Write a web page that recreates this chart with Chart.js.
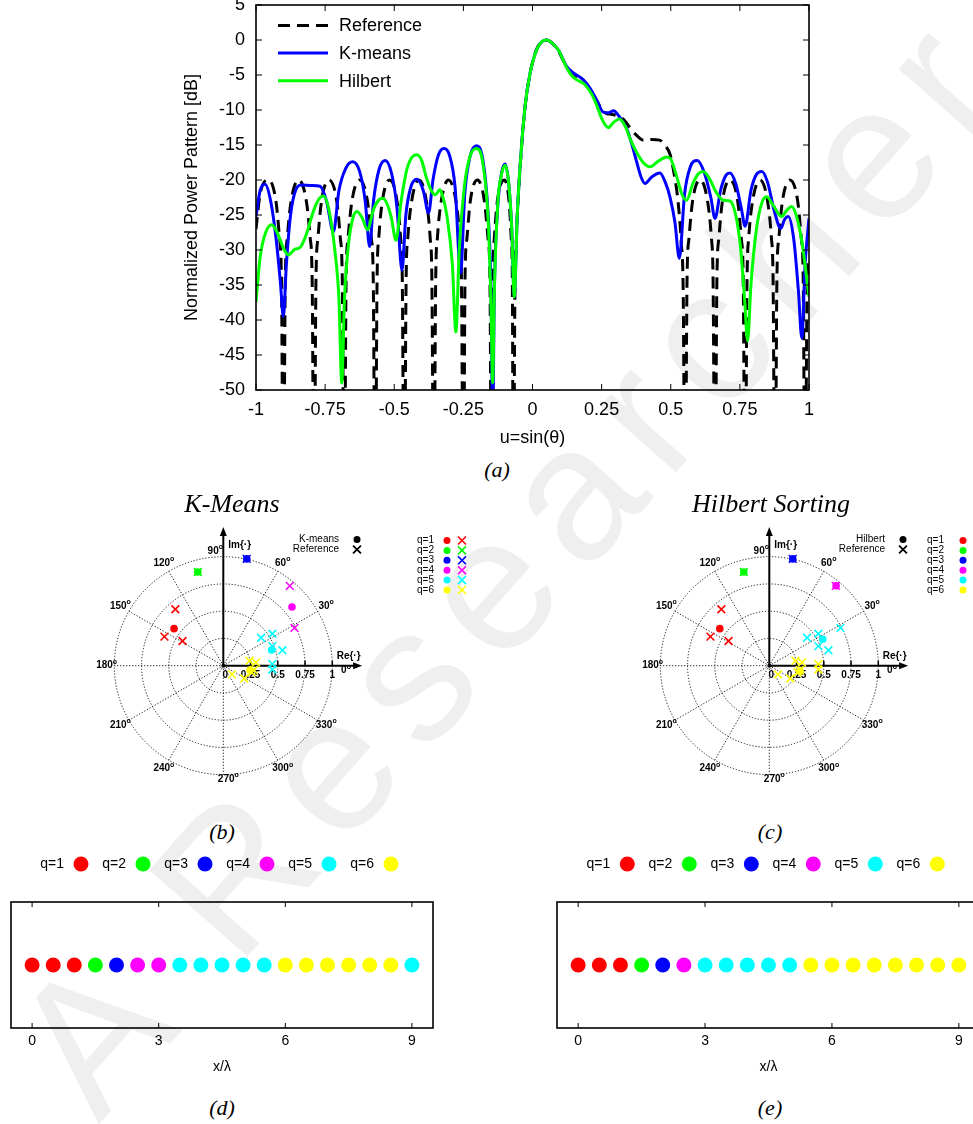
<!DOCTYPE html>
<html>
<head>
<meta charset="utf-8">
<script src="https://cdn.jsdelivr.net/npm/chart.js@4.4.1/dist/chart.umd.min.js"></script>
<style>
  html, body { margin: 0; padding: 0; background: #fff; }
  body { width: 973px; height: 1124px; overflow: hidden; position: relative; }
  canvas { position: absolute; z-index: 1; }
  .cap { position: absolute; z-index: 2; font-family: "Liberation Serif", "Times New Roman", serif; font-style: italic; color: #000; transform: translate(-50%, -50%); white-space: nowrap; }
  .wm { position: absolute; z-index: 0; left: 510px; top: 560px; transform: translate(-50%, -50%) rotate(-48.5deg); font-family: "Liberation Sans", Arial, sans-serif; font-size: 190px; color: #efefef; white-space: nowrap; letter-spacing: 20px; }
</style>
</head>
<body>
<div class="wm">A Researcher</div>

<canvas id="pattern" width="973" height="450" style="left:0;top:0"></canvas>
<div class="cap" style="left:497px;top:470px;font-size:22px">(a)</div>

<div class="cap" style="left:232px;top:504px;font-size:26px">K-Means</div>
<div class="cap" style="left:771px;top:504px;font-size:26px">Hilbert Sorting</div>
<canvas id="polarKm" width="400" height="295" style="left:80px;top:515px"></canvas>
<canvas id="polarHil" width="347" height="295" style="left:626px;top:515px"></canvas>
<div class="cap" style="left:222px;top:832px;font-size:22px">(b)</div>
<div class="cap" style="left:770px;top:832px;font-size:22px">(c)</div>

<canvas id="arrayKm" width="450" height="230" style="left:0;top:850px"></canvas>
<canvas id="arrayHil" width="450" height="230" style="left:545px;top:850px"></canvas>
<div class="cap" style="left:222px;top:1108px;font-size:22px">(d)</div>
<div class="cap" style="left:770px;top:1108px;font-size:22px">(e)</div>

<script>
// ---------- (a) normalized power pattern ----------
const uTicks = [-1, -0.75, -0.5, -0.25, 0, 0.25, 0.5, 0.75, 1];
const uTickLabels = ['-1', '-0.75', '-0.5', '-0.25', '0', '0.25', '0.5', '0.75', '1'];
const dbTicks = [-50, -45, -40, -35, -30, -25, -20, -15, -10, -5, 0, 5];
const dbTickLabels = ['-50', '-45', '-40', '-35', '-30', '-25', '-20', '-15', '-10', '-5', '0', '5'];

// Reference pattern
const refU = [
  -1, -0.985, -0.955, -0.928, -0.915, -0.908, -0.901,
  -0.894, -0.887, -0.873, -0.846, -0.818, -0.804, -0.797, -0.790,
  -0.783, -0.776, -0.763, -0.736, -0.708, -0.695, -0.688, -0.681,
  -0.674, -0.667, -0.653, -0.625, -0.597, -0.583, -0.576, -0.569,
  -0.562, -0.556, -0.543, -0.517, -0.490, -0.477, -0.471, -0.464,
  -0.457, -0.451, -0.437, -0.411, -0.384, -0.370, -0.364, -0.357,
  -0.350, -0.344, -0.330, -0.304, -0.277, -0.263, -0.257, -0.250,
  -0.244, -0.237, -0.225, -0.199, -0.174, -0.161, -0.154, -0.148,
  -0.143, -0.138, -0.127, -0.102, -0.085, -0.077, -0.073, -0.069,
  -0.064, -0.058, -0.050, -0.040, -0.027, -0.009, 0.015, 0.035, 0.051, 0.070, 0.093, 0.115,
  0.136, 0.160, 0.184, 0.208, 0.232, 0.250, 0.268, 0.286, 0.310, 0.328, 0.352, 0.376,
  0.400, 0.430, 0.460, 0.478, 0.498, 0.513, 0.527, 0.538, 0.545, 0.552,
  0.559, 0.566, 0.579, 0.606, 0.633, 0.647, 0.653, 0.660,
  0.667, 0.674, 0.687, 0.714, 0.742, 0.755, 0.762, 0.769,
  0.776, 0.782, 0.796, 0.823, 0.850, 0.864, 0.870, 0.877,
  0.884, 0.891, 0.904, 0.931, 0.959, 0.972, 0.979, 0.986,
  0.993, 1.0
];
const refDb = [
  -27, -22, -20, -23, -28.3, -34, -70,
  -34, -28.3, -23, -20, -23, -28.3, -34, -70,
  -34, -28.3, -23, -20, -23, -28.3, -34, -70,
  -34, -28.3, -23, -20, -23, -28.3, -34, -70,
  -34, -28.3, -23, -20, -23, -28.3, -34, -70,
  -34, -28.3, -23, -20, -23, -28.3, -34, -70,
  -34, -28.3, -23, -20, -23, -28.3, -34, -70,
  -34, -28.3, -23, -20, -23, -28.3, -34, -70,
  -34, -28.3, -23, -20, -23, -28.3, -34, -70,
  -38, -28, -21.5, -15.5, -9.6, -4.8, -1.3, -0.2, 0, -0.4, -1.5, -3.2,
  -4.5, -5.2, -5.9, -7.0, -8.6, -9.9, -10.5, -10.6, -10.9, -11.3, -12.5, -13.6,
  -14.3, -14.2, -14.3, -15.0, -16.4, -19.3, -23.3, -29, -36, -70,
  -34, -28.3, -23, -20, -23, -28.3, -34, -70,
  -34, -28.3, -23, -20, -23, -28.3, -34, -70,
  -34, -28.3, -23, -20, -23, -28.3, -34, -70,
  -34, -28.3, -23, -20, -23, -28.3, -34, -70,
  -36, -31
];

// K-means synthesized pattern
const kmU = [
  -1, -0.985, -0.967, -0.947, -0.927, -0.912, -0.901, -0.890, -0.875, -0.855, -0.835, -0.800, -0.768,
  -0.745, -0.720, -0.700, -0.675, -0.650, -0.625, -0.605, -0.589, -0.575, -0.555, -0.533, -0.510,
  -0.490, -0.472, -0.458, -0.440, -0.418, -0.395, -0.376, -0.360, -0.340, -0.320, -0.300, -0.280,
  -0.260, -0.245, -0.225, -0.202, -0.180, -0.162, -0.150, -0.144, -0.138, -0.126, -0.112, -0.099,
  -0.086, -0.075, -0.066, -0.055, -0.044, -0.027, -0.009, 0.015, 0.035, 0.051, 0.070, 0.093,
  0.124, 0.148, 0.184, 0.210, 0.232, 0.256, 0.275, 0.293, 0.315, 0.340, 0.360, 0.376,
  0.393, 0.407, 0.430, 0.461, 0.480, 0.497, 0.515, 0.531, 0.550, 0.570, 0.596, 0.620,
  0.645, 0.660, 0.680, 0.700, 0.714, 0.735, 0.755, 0.769, 0.790, 0.810, 0.829, 0.850,
  0.875, 0.898, 0.912, 0.925, 0.945, 0.962, 0.974, 0.986, 1.0
];
const kmDb = [
  -25.2, -21.5, -20.6, -23, -28.5, -34.5, -39.5, -32, -25, -21.3, -20.7, -20.8, -20.9,
  -23, -27.4, -21.5, -18.3, -17.4, -18.8, -23, -29.5, -23, -18.5, -17.2, -19.0,
  -24, -32.9, -25, -21, -19.9, -21.5, -24.7, -20, -16.4, -15.5, -16.5, -21,
  -33.3, -22, -16.5, -15.1, -17.0, -24, -36, -55, -36, -24, -19, -17.7,
  -20.5, -27, -36.7, -25, -17.6, -9.5, -4.8, -1.4, -0.2, 0, -0.4, -1.4,
  -3.8, -4.7, -5.7, -7.0, -8.6, -10.3, -10.4, -10.1, -11.0, -12.6, -15.0, -17.3,
  -19.6, -20.5, -19.6, -19.0, -20.3, -22.4, -26, -31.2, -22, -18.2, -17.2, -18.8,
  -22.5, -25.5, -21.5, -19.3, -19.0, -20.5, -24, -26.6, -21.5, -19.2, -18.8, -20.3,
  -24.5, -26.9, -25.6, -25.2, -28.5, -36, -42.6, -32, -25.5
];

// Hilbert-sorting synthesized pattern
const hilU = [
  -1, -0.985, -0.965, -0.943, -0.920, -0.900, -0.883, -0.860, -0.840, -0.820, -0.790, -0.770, -0.756,
  -0.735, -0.715, -0.700, -0.690, -0.680, -0.665, -0.650, -0.635, -0.615, -0.597, -0.575, -0.555,
  -0.541, -0.525, -0.510, -0.494, -0.475, -0.455, -0.435, -0.418, -0.400, -0.385, -0.365, -0.351,
  -0.335, -0.328, -0.310, -0.290, -0.277, -0.265, -0.245, -0.225, -0.202, -0.180, -0.160, -0.150,
  -0.144, -0.138, -0.125, -0.112, -0.099, -0.086, -0.075, -0.066, -0.055, -0.044, -0.027, -0.009,
  0.015, 0.035, 0.051, 0.070, 0.093, 0.124, 0.140, 0.160, 0.184, 0.196, 0.215, 0.232,
  0.250, 0.274, 0.295, 0.315, 0.335, 0.355, 0.376, 0.400, 0.425, 0.455, 0.485, 0.500,
  0.520, 0.540, 0.557, 0.580, 0.600, 0.617, 0.640, 0.665, 0.690, 0.714, 0.735, 0.752,
  0.767, 0.778, 0.790, 0.810, 0.830, 0.847, 0.870, 0.901, 0.920, 0.937, 0.955, 0.975, 1.0
];
const hilDb = [
  -37.4, -31, -27.5, -26.4, -27.8, -29.8, -30.7, -29.9, -29.6, -28, -24.2, -22.6, -22.3,
  -24.5, -30, -37, -49, -37, -29, -25.5, -24.5, -25.5, -27.1, -24.2, -22.8,
  -22.6, -23.5, -25.5, -28.6, -23, -18.6, -16.7, -16.4, -17.3, -19.5, -21.6, -22.1,
  -21.4, -21.9, -25, -32, -41.7, -30, -20.5, -16.5, -15.5, -17.5, -26, -38,
  -49, -36, -23, -19.2, -17.9, -20.5, -27, -36.7, -25, -17.6, -9.5, -4.8,
  -1.4, -0.2, 0, -0.4, -1.4, -4.0, -5.0, -5.7, -6.2, -6.7, -7.8, -9.3,
  -11.2, -12.5, -11.7, -11.3, -12.3, -14.3, -16.0, -17.5, -18.1, -17.3, -16.7, -17.0,
  -19.3, -22.0, -22.9, -20.5, -19.1, -18.8, -19.8, -21.8, -22.9, -23.0, -25, -29.5,
  -37, -43, -35, -27, -23.2, -22.4, -23.6, -25.2, -24.3, -23.8, -25.2, -29, -36.7
];

// ---------- (b)-(e) array excitations and clustering ----------
const qLabels = ['q=1', 'q=2', 'q=3', 'q=4', 'q=5', 'q=6'];
const qColors = ['#ff0000', '#00ff00', '#0000ff', '#ff00ff', '#00ffff', '#ffff00'];

// element positions x/λ
const elemX = [0, 0.5, 1, 1.5, 2, 2.5, 3, 3.5, 4, 4.5, 5, 5.5, 6, 6.5, 7, 7.5, 8, 8.5, 9];
// reference excitations (real / imaginary parts), one per element
const refRe = [-0.44, -0.54, -0.374, -0.234, 0.215, 0.61, 0.653, 0.347, 0.45, 0.45, 0.542, 0.45, 0.24, 0.30, 0.28, 0.26, 0.08, 0.193, 0.45];
const refIm = [0.518, 0.267, 0.227, 0.86, 0.98, 0.732, 0.347, 0.256, 0.293, 0.18, 0.142, 0.015, 0.045, 0.03, -0.04, -0.06, -0.08, -0.117, -0.035];
// cluster index of each element
const kmCluster = [1, 1, 1, 2, 3, 4, 4, 5, 5, 5, 5, 5, 6, 6, 6, 6, 6, 6, 5];
const hilCluster = [1, 1, 1, 2, 3, 4, 5, 5, 5, 5, 5, 6, 6, 6, 6, 6, 6, 6, 6];
// cluster excitations
const kmRe = [-0.452, -0.234, 0.215, 0.63, 0.443, 0.245];
const kmIm = [0.34, 0.86, 0.98, 0.538, 0.144, -0.04];
const hilRe = [-0.454, -0.234, 0.215, 0.613, 0.491, 0.282];
const hilIm = [0.34, 0.86, 0.98, 0.733, 0.242, -0.05];

// polar grid
const ringRadii = [0.25, 0.5, 0.75, 1];
const ringLabels = ['0', '0.25', '0.5', '0.75', '1'];
const spokeAngles = [0, 30, 60, 90, 120, 150, 180, 210, 240, 270, 300, 330];
const posTicks = [0, 3, 6, 9];
const posTickLabels = ['0', '3', '6', '9'];

// ---------- shared helpers ----------
const SANS = '"Liberation Sans", Arial, Helvetica, sans-serif';
Chart.defaults.font.family = SANS;
Chart.defaults.color = '#000';

const toPoints = (xs, ys) => xs.map((x, i) => ({ x: x, y: ys[i] }));

function frameWithTicks(cfg) {
  return {
    id: 'frameWithTicks',
    afterDatasetsDraw(chart) {
      const { ctx, chartArea: a } = chart;
      ctx.save();
      ctx.strokeStyle = '#000';
      ctx.setLineDash([]);
      ctx.lineWidth = 1;
      ctx.beginPath();
      const L = cfg.len;
      (cfg.xTicks || []).forEach(v => {
        const px = chart.scales.x.getPixelForValue(v);
        ctx.moveTo(px, a.bottom); ctx.lineTo(px, a.bottom - L);
        ctx.moveTo(px, a.top); ctx.lineTo(px, a.top + L);
      });
      (cfg.yTicks || []).forEach(v => {
        const py = chart.scales.y.getPixelForValue(v);
        ctx.moveTo(a.left, py); ctx.lineTo(a.left + L, py);
        ctx.moveTo(a.right, py); ctx.lineTo(a.right - L, py);
      });
      ctx.stroke();
      ctx.lineWidth = 1.6;
      ctx.strokeRect(a.left, a.top, a.right - a.left, a.bottom - a.top);
      ctx.restore();
    }
  };
}

// ---------- (a) chart ----------
const patternLegend = {
  id: 'patternLegend',
  afterDatasetsDraw(chart) {
    const ctx = chart.ctx;
    const entries = ['Reference', 'K-means', 'Hilbert'].map(name => chart.data.datasets.find(d => d.label === name));
    ctx.save();
    ctx.font = '18px ' + SANS;
    ctx.textBaseline = 'middle';
    ctx.textAlign = 'left';
    entries.forEach((ds, i) => {
      const y = 25.5 + i * 27.6;
      ctx.strokeStyle = ds.borderColor;
      ctx.lineWidth = ds.borderWidth;
      ctx.setLineDash(ds.borderDash || []);
      ctx.beginPath(); ctx.moveTo(278, y); ctx.lineTo(328, y); ctx.stroke();
      ctx.setLineDash([]);
      ctx.fillStyle = '#000';
      ctx.fillText(ds.label, 339, y + 1);
    });
    ctx.restore();
  }
};

new Chart(document.getElementById('pattern'), {
  type: 'line',
  data: {
    datasets: [
      { label: 'Hilbert', data: toPoints(hilU, hilDb), borderColor: '#00ff00', borderWidth: 3, pointRadius: 0, cubicInterpolationMode: 'monotone', order: 0 },
      { label: 'K-means', data: toPoints(kmU, kmDb), borderColor: '#0000ff', borderWidth: 3, pointRadius: 0, cubicInterpolationMode: 'monotone', order: 1 },
      { label: 'Reference', data: toPoints(refU, refDb), borderColor: '#000000', borderWidth: 3, borderDash: [12, 7], pointRadius: 0, cubicInterpolationMode: 'monotone', order: 2 }
    ]
  },
  options: {
    responsive: false, animation: false, events: [],
    layout: { autoPadding: false, padding: { left: 180, right: 164, top: 5, bottom: 0 } },
    scales: {
      x: {
        type: 'linear', min: -1, max: 1,
        grid: { display: false }, border: { display: false },
        afterBuildTicks: s => { s.ticks = uTicks.map(v => ({ value: v })); },
        ticks: { autoSkip: false, maxRotation: 0, padding: 1, font: { size: 18 }, color: '#000',
                 callback: v => uTickLabels[uTicks.indexOf(v)] },
        title: { display: true, text: 'u=sin(θ)', font: { size: 18 }, color: '#000', padding: { top: 0, bottom: 1 } },
        afterFit: s => { s.height = 60; s.paddingLeft = 0; s.paddingRight = 0; }
      },
      y: {
        type: 'linear', min: -50, max: 5,
        grid: { display: false }, border: { display: false },
        afterBuildTicks: s => { s.ticks = dbTicks.map(v => ({ value: v })); },
        ticks: { autoSkip: false, padding: 3, font: { size: 18 }, color: '#000',
                 callback: v => dbTickLabels[dbTicks.indexOf(v)] },
        title: { display: true, text: 'Normalized Power Pattern [dB]', font: { size: 18 }, color: '#000', padding: { top: 1, bottom: 0 } },
        afterFit: s => { s.width = 76; s.paddingTop = 0; s.paddingBottom = 0; }
      }
    },
    plugins: { legend: { display: false }, tooltip: { enabled: false } }
  },
  plugins: [frameWithTicks({ xTicks: uTicks, yTicks: dbTicks, len: 6 }), patternLegend]
});

// ---------- (b), (c) polar scatter ----------
const PU = 109;      // pixels per unit radius
const PCX = 143.3;   // origin inside canvas
const PCY = 150.7;

function degLabel(ctx, txt, x, y) {
  ctx.font = 'bold 10px ' + SANS;
  const w1 = ctx.measureText(txt).width;
  ctx.font = 'bold 7px ' + SANS;
  const w2 = ctx.measureText('o').width;
  const x0 = x - (w1 + w2) / 2;
  ctx.textAlign = 'left'; ctx.textBaseline = 'middle';
  ctx.font = 'bold 10px ' + SANS; ctx.fillText(txt, x0, y);
  ctx.font = 'bold 7px ' + SANS; ctx.fillText('o', x0 + w1, y - 4);
}

function drawCross(ctx, x, y, r, color, lw) {
  ctx.save();
  ctx.strokeStyle = color; ctx.lineWidth = lw;
  ctx.beginPath();
  ctx.moveTo(x - r * 0.72, y - r * 0.72); ctx.lineTo(x + r * 0.72, y + r * 0.72);
  ctx.moveTo(x + r * 0.72, y - r * 0.72); ctx.lineTo(x - r * 0.72, y + r * 0.72);
  ctx.stroke();
  ctx.restore();
}

function polarDecor(method, legendPos) {
  return {
    id: 'polarDecor',
    beforeDatasetsDraw(chart) {
      const { ctx, scales: { x, y } } = chart;
      const cx = x.getPixelForValue(0), cy = y.getPixelForValue(0);
      const u = x.getPixelForValue(1) - cx;
      ctx.save();
      ctx.strokeStyle = '#000';
      ctx.lineWidth = 0.9;
      ctx.setLineDash([1.2, 1.8]);
      ringRadii.forEach(r => { ctx.beginPath(); ctx.arc(cx, cy, r * u, 0, Math.PI * 2); ctx.stroke(); });
      spokeAngles.forEach(a => {
        if (a === 0 || a === 90) return;
        const t = a * Math.PI / 180;
        ctx.beginPath(); ctx.moveTo(cx, cy); ctx.lineTo(cx + u * Math.cos(t), cy - u * Math.sin(t)); ctx.stroke();
      });
      ctx.setLineDash([]);
      // Re / Im axes with arrows
      ctx.lineWidth = 2;
      const ax = 1.2 * u;
      ctx.beginPath(); ctx.moveTo(cx, cy); ctx.lineTo(cx + ax, cy); ctx.stroke();
      ctx.beginPath(); ctx.moveTo(cx, cy); ctx.lineTo(cx, cy - ax); ctx.stroke();
      ctx.fillStyle = '#000';
      ctx.beginPath(); ctx.moveTo(cx + ax + 8, cy); ctx.lineTo(cx + ax - 1, cy - 3.5); ctx.lineTo(cx + ax - 1, cy + 3.5); ctx.closePath(); ctx.fill();
      ctx.beginPath(); ctx.moveTo(cx, cy - ax - 8); ctx.lineTo(cx - 3.5, cy - ax + 1); ctx.lineTo(cx + 3.5, cy - ax + 1); ctx.closePath(); ctx.fill();
      // ticks along Re axis
      ctx.lineWidth = 1.5;
      ctx.beginPath();
      ringRadii.forEach(r => { ctx.moveTo(cx + r * u, cy); ctx.lineTo(cx + r * u, cy - 5); });
      ctx.stroke();
      ctx.beginPath(); ctx.arc(cx, cy, 2, 0, Math.PI * 2); ctx.fill();
      // radial labels
      ctx.font = 'bold 10px ' + SANS;
      ctx.textAlign = 'center'; ctx.textBaseline = 'middle';
      [0].concat(ringRadii).forEach((r, i) => {
        ctx.fillText(ringLabels[i], cx + r * u + (i === 0 ? 2 : 0), cy + 10);
      });
      // angle labels
      spokeAngles.forEach(a => {
        const t = a * Math.PI / 180;
        let rr = 1.09, dx = 0, dy = 0;
        if (a === 90) { rr = 1.05; dx = -8; }
        if (a === 270) { rr = 1.04; dx = 5; }
        if (a === 0) { rr = 1.08; dx = 5; dy = 5; }
        if (a === 180) { rr = 1.07; }
        degLabel(ctx, String(a), cx + rr * u * Math.cos(t) + dx, cy - rr * u * Math.sin(t) + dy);
      });
      ctx.font = 'bold 10px ' + SANS;
      ctx.textAlign = 'left'; ctx.textBaseline = 'middle';
      ctx.fillText('Im{·}', cx + 5, cy - 1.107 * u);
      ctx.fillText('Re{·}', cx + 1.04 * u, cy - 0.085 * u);
      ctx.restore();
    },
    afterDatasetsDraw(chart) {
      const ctx = chart.ctx;
      const ox = PCX - 123.3;
      ctx.save();
      ctx.font = '10px ' + SANS;
      ctx.fillStyle = '#000';
      ctx.textBaseline = 'middle';
      ctx.textAlign = 'right';
      ctx.fillText(method, ox + 239, 24.5);
      ctx.fillText('Reference', ox + 239, 34.5);
      ctx.beginPath(); ctx.arc(ox + 257, 24.5, 3.5, 0, Math.PI * 2); ctx.fill();
      drawCross(ctx, ox + 257, 34.5, 5.5, '#000', 1.8);
      ctx.textAlign = 'left';
      qLabels.forEach((lab, i) => {
        const yy = 25.5 + i * 9.9;
        ctx.fillStyle = '#000';
        ctx.fillText(lab, ox + legendPos.text, yy);
        ctx.fillStyle = qColors[i];
        ctx.beginPath(); ctx.arc(ox + legendPos.dot, yy, 3.5, 0, Math.PI * 2); ctx.fill();
        drawCross(ctx, ox + legendPos.cross, yy, 5.5, qColors[i], 1.6);
      });
      ctx.restore();
    }
  };
}

function polarChart(id, method, cRe, cIm, clusters, legendPos) {
  const canvas = document.getElementById(id);
  const W = canvas.width, H = canvas.height;
  const datasets = [];
  for (let q = 1; q <= 6; q++) {
    const idx = clusters.map((c, i) => (c === q ? i : -1)).filter(i => i >= 0);
    datasets.push({
      label: 'Reference ' + qLabels[q - 1],
      data: idx.map(i => ({ x: refRe[i], y: refIm[i] })),
      pointStyle: 'crossRot', pointRadius: 5.5, pointBorderWidth: 1.6,
      pointBorderColor: qColors[q - 1], pointBackgroundColor: qColors[q - 1], order: 1
    });
    datasets.push({
      label: method + ' ' + qLabels[q - 1],
      data: [{ x: cRe[q - 1], y: cIm[q - 1] }],
      pointStyle: 'circle', pointRadius: 3.8, pointBorderWidth: 0,
      pointBackgroundColor: qColors[q - 1], pointBorderColor: qColors[q - 1], order: 0
    });
  }
  return new Chart(canvas, {
    type: 'scatter',
    data: { datasets: datasets },
    options: {
      responsive: false, animation: false, events: [],
      layout: { autoPadding: false, padding: 0 },
      scales: {
        x: { type: 'linear', display: false, min: -PCX / PU, max: (W - PCX) / PU },
        y: { type: 'linear', display: false, min: -(H - PCY) / PU, max: PCY / PU }
      },
      plugins: { legend: { display: false }, tooltip: { enabled: false } }
    },
    plugins: [polarDecor(method, legendPos)]
  });
}

polarChart('polarKm', 'K-means', kmRe, kmIm, kmCluster, { text: 317, dot: 347, cross: 362 });
polarChart('polarHil', 'Hilbert', hilRe, hilIm, hilCluster, { text: 281, dot: 317, cross: 332 });

// ---------- (d), (e) element positions ----------
function qLegend(firstDot) {
  return {
    id: 'qLegend',
    afterDraw(chart) {
      const ctx = chart.ctx;
      ctx.save();
      ctx.font = '14px ' + SANS;
      ctx.textBaseline = 'middle';
      ctx.textAlign = 'right';
      qLabels.forEach((lab, i) => {
        const cx = firstDot + i * 62;
        ctx.fillStyle = '#000';
        ctx.fillText(lab, cx - 17, 14.5);
        ctx.fillStyle = qColors[i];
        ctx.beginPath(); ctx.arc(cx, 14, 7.5, 0, Math.PI * 2); ctx.fill();
      });
      ctx.restore();
    }
  };
}

function arrayChart(id, clusters, padL, padR, firstDot) {
  return new Chart(document.getElementById(id), {
    type: 'scatter',
    data: {
      datasets: [{
        label: 'elements',
        data: elemX.map(v => ({ x: v, y: 0 })),
        pointRadius: 7.5, pointBorderWidth: 0,
        pointBackgroundColor: clusters.map(q => qColors[q - 1])
      }]
    },
    options: {
      responsive: false, animation: false, events: [],
      layout: { autoPadding: false, padding: { left: padL, right: padR, top: 52, bottom: 0 } },
      scales: {
        x: {
          type: 'linear', min: -0.5, max: 9.5,
          grid: { display: false }, border: { display: false },
          afterBuildTicks: s => { s.ticks = posTicks.map(v => ({ value: v })); },
          ticks: { autoSkip: false, maxRotation: 0, padding: -3, font: { size: 14 }, color: '#000',
                   callback: v => posTickLabels[posTicks.indexOf(v)] },
          title: { display: true, text: 'x/λ', font: { size: 14 }, color: '#000', padding: { top: 0, bottom: 4 } },
          afterFit: s => { s.height = 52; s.paddingLeft = 0; s.paddingRight = 0; }
        },
        y: { type: 'linear', display: false, min: -1, max: 1 }
      },
      plugins: { legend: { display: false }, tooltip: { enabled: false } }
    },
    plugins: [frameWithTicks({ xTicks: posTicks, len: 5 }), qLegend(firstDot)]
  });
}

arrayChart('arrayKm', kmCluster, 11, 17, 81);
arrayChart('arrayHil', hilCluster, 12, 15, 82.3);
</script>
</body>
</html>
